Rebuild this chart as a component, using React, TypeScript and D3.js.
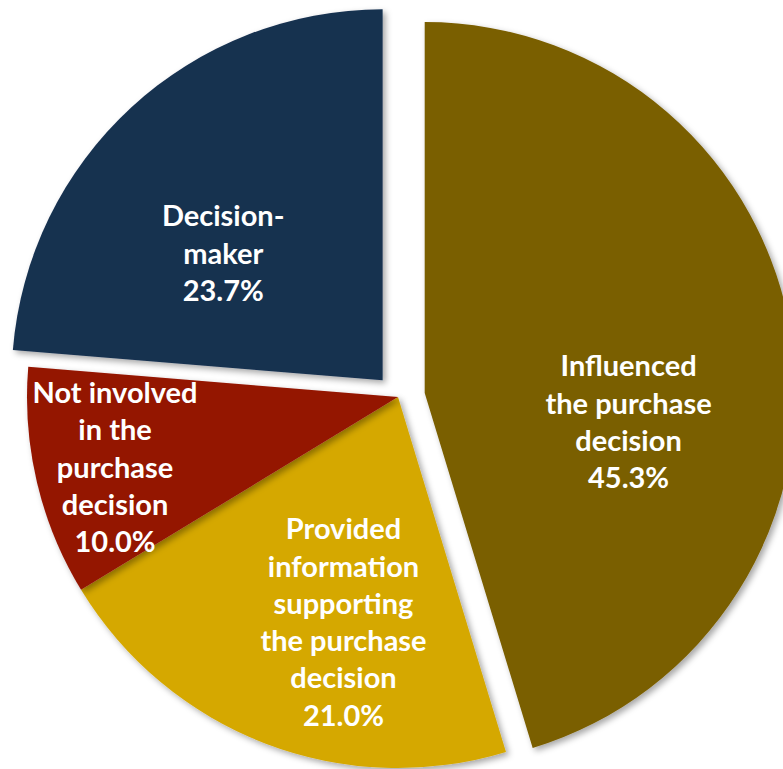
import React from "react";
import * as d3 from "d3";

const categories = [
  "Influenced the purchase decision",
  "Provided information supporting the purchase decision",
  "Not involved in the purchase decision",
  "Decision-maker",
];
const values = [45.3, 21.0, 10.0, 23.7];
const labelLines = [
  ["Influenced", "the purchase", "decision"],
  ["Provided", "information", "supporting", "the purchase", "decision"],
  ["Not involved", "in the", "purchase", "decision"],
  ["Decision-", "maker"],
];
const colors = ["#7A5E00", "#D5A800", "#941400", "#163050"];

// layout constants
const W = 783;
const H = 769;
const CX = 398;
const CY = 397;
const R = 371;
const explodeDist = [27, 0, 0, 22.7];
const labelPolar: [number, number][] = [
  [98.1, 0.555],
  [193.6, 0.625],
  [256, 0.786],
  [308.5, 0.549],
];
const FS = 29;
const LH = 37.3;

export default function App() {
  const pie = d3
    .pie<number>()
    .sort(null)
    .value((d) => d)
    .startAngle(0)
    .endAngle(2 * Math.PI);
  const arcs = pie(values);
  const arcGen = d3.arc<d3.PieArcDatum<number>>().innerRadius(0).outerRadius(R);

  return (
    <svg
      width={W}
      height={H}
      style={{ position: "absolute", left: 0, top: 0, background: "#fff" }}
    >
      <defs>
        <filter id="shadow" x="-20%" y="-20%" width="140%" height="140%">
          <feDropShadow dx="3" dy="3" stdDeviation="3" floodColor="#000" floodOpacity="0.35" />
        </filter>
      </defs>
      {arcs.map((a, i) => {
        const mid = (a.startAngle + a.endAngle) / 2;
        const ox = explodeDist[i] * Math.sin(mid);
        const oy = -explodeDist[i] * Math.cos(mid);
        const vx = CX + ox;
        const vy = CY + oy;
        const [ang, frac] = labelPolar[i];
        const t = (ang * Math.PI) / 180;
        const lx = vx + frac * R * Math.sin(t);
        const ly = vy - frac * R * Math.cos(t);
        const lines = [...labelLines[i], `${values[i].toFixed(1)}%`];
        const n = lines.length;
        return (
          <g key={categories[i]} transform={`translate(${vx},${vy})`}>
            <path d={arcGen(a) || ""} fill={colors[i]} filter="url(#shadow)" />
            <text
              textAnchor="middle"
              fill="#fff"
              fontFamily="Lato, 'Open Sans', sans-serif"
              fontWeight="bold"
              fontSize={FS}
            >
              {lines.map((ln, j) => (
                <tspan
                  key={j}
                  x={lx - vx}
                  y={ly - vy + (j - (n - 1) / 2) * LH + 0.35 * FS}
                >
                  {ln}
                </tspan>
              ))}
            </text>
          </g>
        );
      })}
    </svg>
  );
}
